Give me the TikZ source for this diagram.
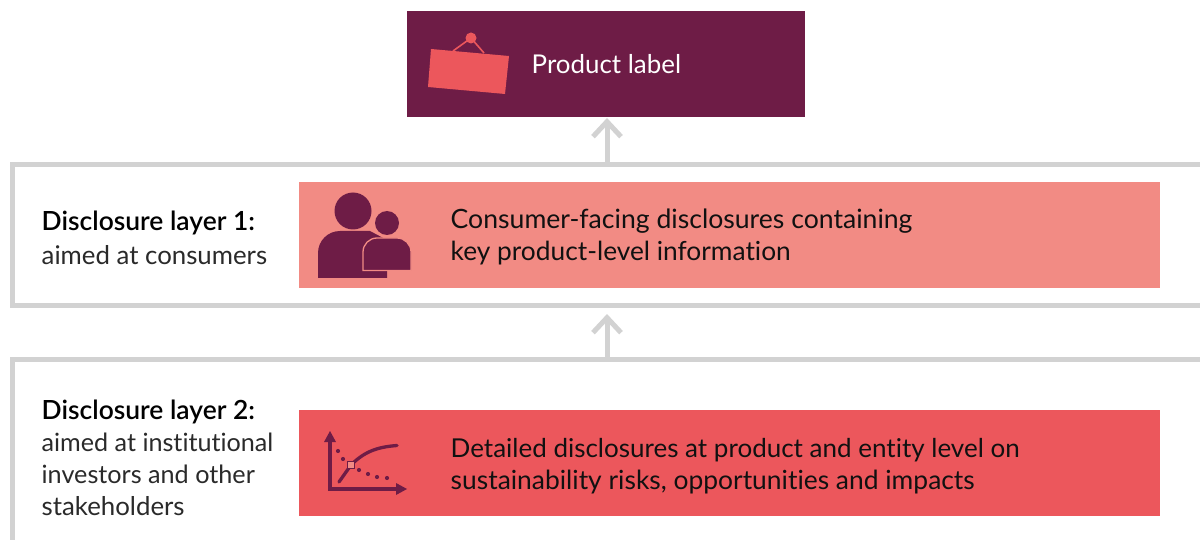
\documentclass[tikz,border=0pt]{standalone}
\usepackage{fontspec}
\setmainfont[Ligatures=CommonOff]{Lato}
\newfontfamily\medf[Ligatures=CommonOff]{Lato Semibold}
\usetikzlibrary{arrows.meta}
\definecolor{plum}{HTML}{6E1C46}
\definecolor{salmon}{HTML}{F28B84}
\definecolor{coral}{HTML}{EC575C}
\definecolor{framegrey}{HTML}{D2D2D2}
\definecolor{ink}{HTML}{111111}
\definecolor{soft}{HTML}{2A2A2A}
\tikzset{
  banner/.style={anchor=north west,inner sep=0pt,outer sep=0pt,minimum width=861pt,minimum height=106pt},
  layerframe/.style={draw=framegrey,line width=5pt,anchor=north west,inner sep=0pt,outer sep=0pt,minimum width=1200pt},
  txt/.style={anchor=base west,inner sep=0pt,font=\fontsize{#1}{32}\selectfont,text=ink},
  lead/.style={anchor=base west,inner sep=0pt,font=\fontsize{26.4}{32}\selectfont\medf,text=black},
  sub/.style={anchor=base west,inner sep=0pt,font=\fontsize{#1}{32}\selectfont,text=soft},
  uparrow/.style={draw=framegrey,line width=5pt,-{Straight Barb[length=15pt,width=28pt,line width=5pt]}},
}
\begin{document}
\begin{tikzpicture}[x=1pt,y=-1pt]
\useasboundingbox (0,0) rectangle (1200,540);
\clip (0,0) rectangle (1200,540);
\fill[white] (0,0) rectangle (1200,540);
% frames
\node[layerframe,minimum height=141pt] (frameA) at (12.5,164.5) {};
\node[layerframe,minimum height=240pt] (frameB) at (12.5,359.5) {};
% top label
\node[banner,fill=plum,minimum width=398pt] (top) at (407,11) {};
% banners
\node[banner,fill=salmon] (bandA) at (299,182) {};
\node[banner,fill=coral] (bandB) at (299,410) {};
% arrows
\coordinate (tipA) at (607,118);
\coordinate (tipB) at (607,314);
\draw[uparrow] (tipA |- frameA.north) -- (tipA);
\draw[uparrow] (tipB |- frameB.north) -- (tipB);
% sign icon
\draw[coral,line width=1.6pt] (453,51) -- (471,38) -- (484,53);
\fill[coral] (471,38) circle (5.5);
\fill[coral] (431,49) -- (509,56) -- (505,94) -- (428,87) -- cycle;
% people icon
\fill[plum] (353,211) circle (18.5);
\fill[plum] (387,223) circle (12);
\fill[plum] (318,278) -- (318,253) arc[start angle=180,end angle=270,radius=22] -- (370,231) -- (387,240) -- (387,278) -- cycle;
\draw[salmon,line width=1.3pt,fill=plum] (363,270.5) -- (363,252) arc[start angle=180,end angle=270,radius=14] -- (397,238) arc[start angle=270,end angle=360,radius=14] -- (411,270.5) -- cycle;
% chart icon
\draw[plum,line width=3.3pt] (330,440) -- (330,489) -- (398,489);
\fill[plum] (330,431) -- (336,442) -- (324,442) -- cycle;
\fill[plum] (407,489) -- (396,483) -- (396,495) -- cycle;
\draw[plum,line width=3.3pt,line cap=round] (339,482) -- (351,465) .. controls (365,451) and (378,447) .. (397,445.5);
\foreach \p in {(338,451),(343,459),(359,470),(368,474),(377,477),(387,478)} \fill[plum] \p circle (2.1);
\draw[plum,line width=1.9pt,fill=salmon] (347.5,461.5) rectangle (354.5,468.5);
% texts
\node[txt=25.9,text=white] (t0) at (531.5,74) {Product label};
\node[lead] (a1) at (41.5,231) {Disclosure layer 1:};
\node[sub=25.8] (a2) at (41.5,265) {aimed at consumers};
\node[txt=26.6] (b1) at (450.5,229) {Consumer-facing disclosures containing};
\node[txt=26.3] (b2) at (450.5,261) {key product-level information};
\node[lead] (c1) at (41.5,419) {Disclosure layer 2:};
\node[sub=25.15] (c2) at (41.5,451) {aimed at institutional};
\node[sub=25.2] (c3) at (41.5,483) {investors and other};
\node[sub=25.8] (c4) at (41.5,515) {stakeholders};
\node[txt=26] (d1) at (450.5,457) {Detailed disclosures at product and entity level on};
\node[txt=26.4] (d2) at (450.5,489) {sustainability risks, opportunities and impacts};
\end{tikzpicture}
\end{document}
